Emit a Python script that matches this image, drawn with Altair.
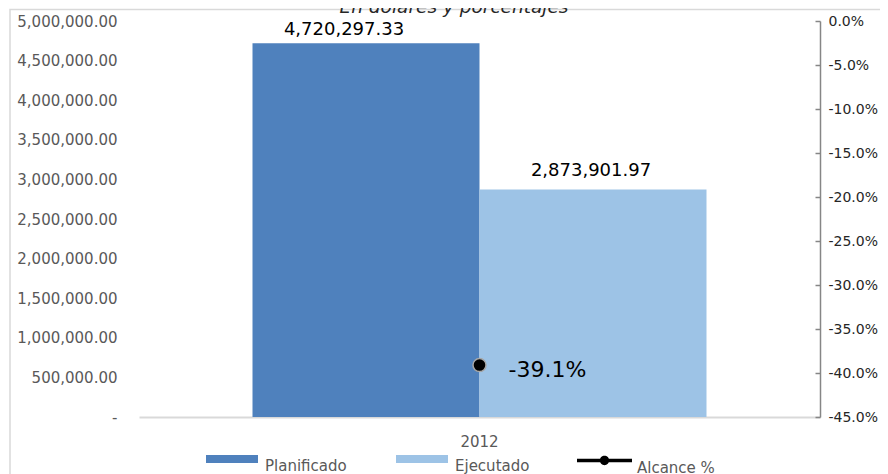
import altair as alt
import pandas as pd

# ---- data ----
years = ["2012"]
series = ["Planificado", "Ejecutado"]
values = [4720297.33, 2873901.97]
alcance_label = ["Alcance %"]
alcance_values = [-0.391]

left_ticks = [0, 500000, 1000000, 1500000, 2000000, 2500000, 3000000,
              3500000, 4000000, 4500000, 5000000]
right_ticks = [0.0, -0.05, -0.10, -0.15, -0.20, -0.25, -0.30, -0.35, -0.40, -0.45]

bar_colors = ["#4f81bd", "#9dc3e6"]
FONT = "DejaVu Sans"
GREY = "#595959"

bars_df = pd.DataFrame({"Año": years * len(series), "Serie": series, "Valor": values})
pct_df = pd.DataFrame({"Año": years, "Indicador": alcance_label, "Alcance": alcance_values})
frame_df = pd.DataFrame({"k": [0]})

x_enc = alt.X("Año:N", title=None,
              scale=alt.Scale(paddingOuter=0.25, paddingInner=0),
              axis=alt.Axis(labelAngle=0, ticks=False, tickSize=0, domainColor="#d9d9d9",
                            domainWidth=2, labelFont=FONT, labelFontSize=15,
                            labelColor=GREY, labelPadding=17))
x_off = alt.XOffset("Serie:N", sort=series,
                    scale=alt.Scale(paddingInner=0, paddingOuter=0))

y_left = alt.Y("Valor:Q", title=None,
               scale=alt.Scale(domain=[0, 5000000], nice=False),
               axis=alt.Axis(values=left_ticks, grid=False, domain=False, ticks=False,
                             tickSize=0, labelPadding=22, labelFont=FONT, labelFontSize=15,
                             labelColor=GREY, labelOverlap=False,
                             labelExpr="datum.value == 0 ? '-\u00a0\u00a0' : format(datum.value, ',.2f')"))

bars = alt.Chart(bars_df).mark_bar().encode(
    x=x_enc,
    xOffset=x_off,
    y=y_left,
    color=alt.Color("Serie:N", sort=series,
                    scale=alt.Scale(domain=series, range=bar_colors),
                    legend=alt.Legend(title=None, orient="none", direction="horizontal",
                                      legendX=67, legendY=412,
                                      symbolType="M-1,-0.15H1V0.15H-1Z", symbolSize=2704,
                                      symbolStrokeWidth=0, labelOffset=7, columnPadding=49,
                                      labelFont=FONT, labelFontSize=15, labelColor=GREY,
                                      labelBaseline="top", padding=0)),
)

text_style = dict(font=FONT, fontSize=18, color="#000000", baseline="alphabetic")

bar_text_plan = alt.Chart(bars_df).transform_filter(
    alt.datum.Serie == series[0]
).mark_text(dx=-22, dy=-8, **text_style).encode(
    x=x_enc, xOffset=x_off, y=y_left,
    text=alt.Text("Valor:Q", format=",.2f"),
)

bar_text_ejec = alt.Chart(bars_df).transform_filter(
    alt.datum.Serie == series[1]
).mark_text(dx=-2, dy=-13, **text_style).encode(
    x=x_enc, xOffset=x_off, y=y_left,
    text=alt.Text("Valor:Q", format=",.2f"),
)

left = alt.layer(bars, bar_text_plan, bar_text_ejec)

y_right = alt.Y("Alcance:Q", title=None,
                scale=alt.Scale(domain=[-0.45, 0], nice=False, zero=False),
                axis=alt.Axis(orient="right", values=right_ticks, grid=False,
                              domainColor="#868686", domainWidth=1.5,
                              tickColor="#868686", tickWidth=1.5,
                              tickSize={"expr": "-5"}, labelPadding=13,
                              labelFont=FONT, labelFontSize=14, labelColor="#262626",
                              labelOverlap=False,
                              labelExpr="(datum.value < -0.0001 ? '-' : '') + format(abs(datum.value), '.1%')"))

point = alt.Chart(pct_df).mark_point(
    filled=True, size=170, stroke="#a6a6a6", strokeWidth=1.5, opacity=1
).encode(
    x=x_enc,
    y=y_right,
    color=alt.Color("Indicador:N",
                    scale=alt.Scale(domain=alcance_label, range=["#000000"]),
                    legend=alt.Legend(title=None, orient="none", direction="horizontal",
                                      legendX=438, legendY=412,
                                      symbolType="M-1,-0.06H1V0.06H-1Z M-0.17,0A0.17,0.17 0 1,1 0.17,0A0.17,0.17 0 1,1 -0.17,0Z",
                                      symbolSize=3025, symbolStrokeWidth=0, labelOffset=5,
                                      labelFont=FONT, labelFontSize=15, labelColor=GREY,
                                      labelBaseline="top", padding=0)),
)

point_text = alt.Chart(pct_df).transform_calculate(
    lab="(datum.Alcance < 0 ? '-' : '') + format(abs(datum.Alcance), '.1%')"
).mark_text(
    font=FONT, fontSize=22, color="#000000", align="left", baseline="middle", dx=29, dy=5
).encode(
    x=x_enc,
    y=y_right,
    text="lab:N",
)

right = alt.layer(point, point_text)

# outer chart-area border (runs off the right and bottom edges, as in the reference)
frame = alt.Chart(frame_df).mark_rect(
    fill="transparent", stroke="#d9d9d9", strokeWidth=1.5
).encode(
    x=alt.value(-129), x2=alt.value(759), y=alt.value(-11.5), y2=alt.value(700)
)

chart = alt.layer(frame, left, right).resolve_scale(
    y="independent", color="independent"
).properties(
    width=681,
    height=396,
    autosize=alt.AutoSizeParams(type="none"),
    padding={"left": 131, "top": 13, "right": 60, "bottom": 57},
    title=alt.TitleParams("En dólares y porcentajes", font=FONT, fontSize=18.5,
                          fontStyle="italic", fontWeight="normal", color="#262626",
                          anchor="middle", frame="bounds", offset=-8),
).configure_view(stroke="transparent")

chart.save("out.html", embed_options={"renderer": "svg", "actions": False})
